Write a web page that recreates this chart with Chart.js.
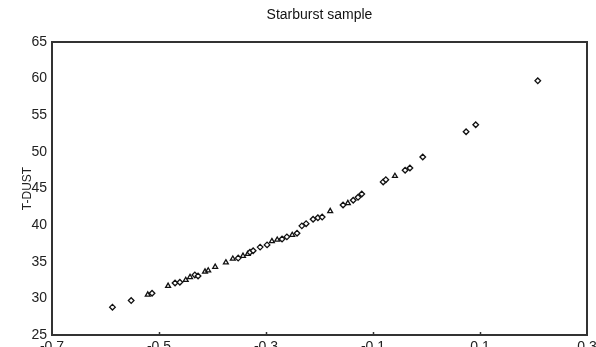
<!DOCTYPE html>
<html>
<head>
<meta charset="utf-8">
<script src="https://cdn.jsdelivr.net/npm/chart.js@4"></script>
<style>
  html, body { margin: 0; padding: 0; background: #fff; overflow: hidden; }
  #wrap { width: 596px; height: 347px; overflow: hidden; }
</style>
</head>
<body>
<div id="wrap"><canvas id="canvas" width="596" height="358"></canvas></div>
<script>
// open diamonds
var diamondX = [-0.587, -0.552, -0.513, -0.470, -0.461, -0.433, -0.427, -0.352, -0.330, -0.324,
                -0.311, -0.298, -0.270, -0.261, -0.242, -0.233, -0.225, -0.212, -0.203, -0.195,
                -0.156, -0.137, -0.128, -0.121, -0.081, -0.076, -0.040, -0.031, -0.007, 0.074,
                0.092, 0.208];
var diamondY = [28.8, 29.7, 30.7, 32.1, 32.2, 33.2, 33.05, 35.5, 36.3, 36.5,
                37.0, 37.3, 38.1, 38.4, 38.9, 39.9, 40.2, 40.8, 41.0, 41.1,
                42.75, 43.4, 43.8, 44.25, 45.9, 46.2, 47.5, 47.8, 49.3, 52.75,
                53.7, 59.7];
// triangles
var triangleX = [-0.521, -0.483, -0.450, -0.442, -0.414, -0.408, -0.395, -0.375, -0.362, -0.343,
                 -0.334, -0.289, -0.279, -0.251, -0.180, -0.147, -0.059];
var triangleY = [30.5, 31.7, 32.5, 32.9, 33.64, 33.8, 34.3, 34.9, 35.4, 35.8,
                 36.05, 37.8, 38.0, 38.65, 41.9, 43.0, 46.7];

var xTicks = [-0.7, -0.5, -0.3, -0.1, 0.1, 0.3];
var yTicks = [25, 30, 35, 40, 45, 50, 55, 60, 65];

function toPoints(xs, ys) {
    return xs.map(function(x, i) { return { x: x, y: ys[i] }; });
}

var frame = {
    id: 'frame',
    afterDraw: function(chart) {
        var ctx = chart.ctx, a = chart.chartArea;
        ctx.save();
        ctx.strokeStyle = '#333';
        ctx.lineWidth = 2;
        ctx.strokeRect(a.left, a.top, a.right - a.left, a.bottom - a.top);
        // small inward ticks on the bottom axis
        var xs = chart.scales.x;
        ctx.lineWidth = 1.5;
        xTicks.slice(1, -1).forEach(function(v) {
            var px = Math.round(xs.getPixelForValue(v)) + 0.5;
            ctx.beginPath();
            ctx.moveTo(px, a.bottom);
            ctx.lineTo(px, a.bottom - 3);
            ctx.stroke();
        });
        ctx.restore();
    }
};

window.onload = function() {
    var ctx = document.getElementById('canvas').getContext('2d');
    window.chart = new Chart(ctx, {
        type: 'scatter',
        data: {
            datasets: [{
                data: toPoints(diamondX, diamondY),
                pointStyle: 'rectRot',
                radius: 2.8,
                borderWidth: 1.3,
                borderColor: '#111',
                backgroundColor: '#fff'
            }, {
                data: toPoints(triangleX, triangleY),
                pointStyle: 'triangle',
                radius: 2.8,
                borderWidth: 1.3,
                borderColor: '#111',
                backgroundColor: 'rgba(0,0,0,0)'
            }]
        },
        options: {
            responsive: false,
            animation: false,
            layout: { padding: { left: 0, right: 9, top: 0, bottom: 0 } },
            plugins: {
                legend: { display: false },
                tooltip: { enabled: false },
                title: {
                    display: true,
                    fullSize: false,
                    text: 'Starburst sample',
                    color: '#111',
                    font: { family: 'Liberation Sans', size: 14, weight: 'normal' },
                    padding: { top: 7, bottom: 18.2 }
                }
            },
            scales: {
                x: {
                    type: 'linear',
                    min: -0.7,
                    max: 0.3,
                    afterBuildTicks: function(scale) {
                        scale.ticks = xTicks.map(function(v) { return { value: v }; });
                    },
                    afterFit: function(scale) {
                        scale.height = 358 - 335;
                        scale.paddingLeft = 0;
                        scale.paddingRight = 0;
                    },
                    grid: { display: false, drawTicks: false },
                    border: { display: false },
                    ticks: {
                        padding: 4,
                        color: '#222',
                        font: { family: 'Liberation Sans', size: 14 },
                        callback: function(v) { return Number(v).toFixed(1); }
                    }
                },
                y: {
                    type: 'linear',
                    min: 25,
                    max: 65,
                    afterBuildTicks: function(scale) {
                        scale.ticks = yTicks.map(function(v) { return { value: v }; });
                    },
                    afterFit: function(scale) { scale.width = 52; },
                    grid: { display: false, drawTicks: false },
                    border: { display: false },
                    title: {
                        display: true,
                        text: 'T-DUST',
                        color: '#222',
                        font: { family: 'Liberation Sans', size: 12 },
                        padding: { top: 20, bottom: 0 }
                    },
                    ticks: {
                        padding: 5,
                        color: '#222',
                        font: { family: 'Liberation Sans', size: 14 }
                    }
                }
            }
        },
        plugins: [frame]
    });
};
</script>
</body>
</html>
